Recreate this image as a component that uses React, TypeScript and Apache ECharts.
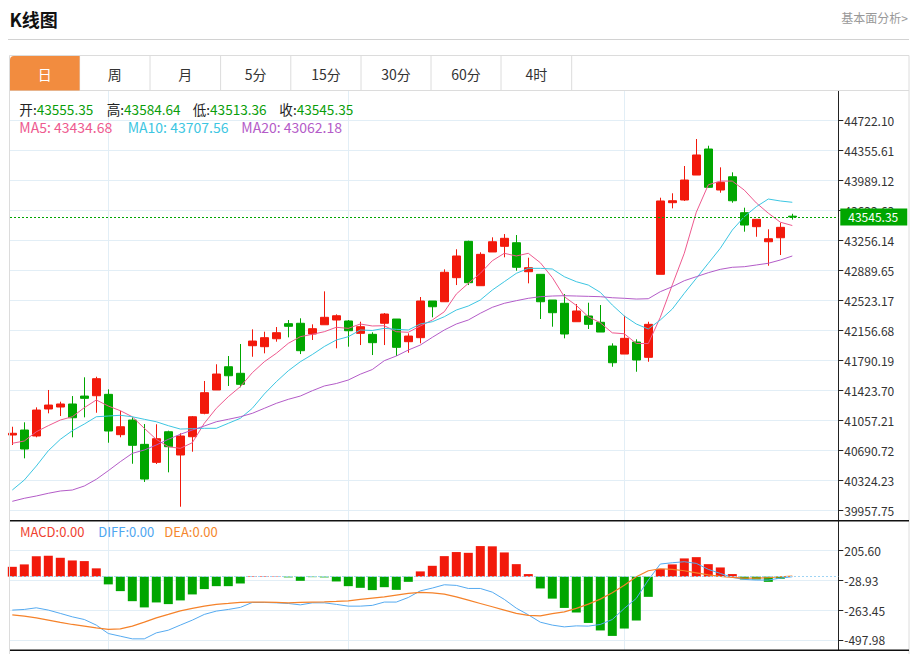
import React, { useEffect, useRef } from "react";
import * as echarts from "echarts";

const tabs = ["日", "周", "月", "5分", "15分", "30分", "60分", "4时"];

const opens = [
  40882, 40943, 40870, 41200, 41224, 41261, 41358, 41362, 41379, 40886,
  41065, 40768, 40548, 40922, 40638, 40861, 41147, 41432, 41716, 41636,
  41973, 41961, 42058, 42242, 42247, 42116, 42229, 42287, 42275, 42124,
  42112, 42247, 42299, 42022, 42071, 42519, 42510, 42804, 43248, 42706,
  43118, 43187, 43231, 42877, 42845, 42531, 42491, 42266, 42336, 42259,
  41969, 41871, 42018, 41831, 42845, 43720, 43753, 44058, 44376, 43875,
  44037, 43598, 43427, 43243, 43292, 43555.35,
];
const closes = [
  40903, 40711, 41187, 41248, 41261, 41093, 41330, 41570, 40931, 40983,
  40756, 40344, 40837, 40739, 40870, 41105, 41399, 41627, 41606, 41501,
  42030, 42071, 42132, 42210, 41912, 42181, 42320, 42339, 42156, 42205,
  42010, 42360, 41953, 42091, 42519, 42449, 42870, 43069, 42743, 43089,
  43243, 43285, 42931, 42926, 42510, 42376, 42116, 42397, 42234, 42140,
  41765, 42063, 41798, 42234, 43741, 43744, 43997, 44303, 43908, 43969,
  43744, 43447, 43517, 43280, 43419, 43545.35,
];
const lows = [
  40760, 40597, 40854, 41147, 41114, 40854, 41098, 41154, 40788, 40854,
  40531, 40308, 40528, 40426, 40006, 40678, 41135, 41432, 41481, 41465,
  41838, 41880, 42022, 42075, 41871, 42043, 42229, 41941, 41961, 41981,
  41859, 41981, 41847, 41887, 42002, 42320, 42510, 42714, 42714, 42706,
  43118, 43053, 42889, 42735, 42299, 42205, 42063, 42266, 42177, 42140,
  41716, 41871, 41655, 41777, 42845, 43651, 43741, 44058, 43908, 43842,
  43720, 43366, 43304, 42950, 43081, 43513.36,
];
const highs = [
  40983, 41037, 41220, 41432, 41289, 41358, 41587, 41594, 41440, 41179,
  41098, 41016, 41013, 40935, 40903, 41114, 41542, 41746, 41847, 41994,
  42173, 42144, 42201, 42287, 42308, 42234, 42637, 42356, 42287, 42266,
  42137, 42372, 42299, 42124, 42568, 42519, 42906, 43151, 43256, 43114,
  43297, 43337, 43325, 43048, 42845, 42531, 42604, 42482, 42498, 42470,
  42002, 42339, 42051, 42266, 43781, 43835, 44168, 44498, 44416, 44152,
  44091, 43659, 43517, 43395, 43475, 43584.64,
];
const ma5 = [
  40781, 40809, 40922, 40996, 41065, 41105, 41216, 41310, 41236, 41179,
  41105, 40964, 40829, 40739, 40719, 40788, 41025, 41208, 41350, 41472,
  41643, 41777, 41880, 42002, 42083, 42112, 42144, 42198, 42185, 42238,
  42214, 42217, 42144, 42137, 42214, 42287, 42388, 42604, 42735, 42857,
  43011, 43102, 43069, 43102, 42987, 42806, 42572, 42465, 42327, 42253,
  42130, 42119, 42000, 42000, 42320, 42716, 43103, 43604, 43938, 43984,
  43984, 43874, 43717, 43592, 43482, 43441,
];
const ma10 = [
  40210, 40332, 40503, 40690, 40829, 40935, 41016, 41105, 41114, 41123,
  41105, 41074, 41044, 40996, 40955, 40959, 40964, 40964, 41025, 41086,
  41208, 41383, 41533, 41667, 41777, 41865, 41963, 42043, 42083, 42165,
  42159, 42185, 42173, 42165, 42238, 42266, 42327, 42409, 42458, 42531,
  42653, 42755, 42857, 42918, 42918, 42910, 42816, 42755, 42714, 42625,
  42470, 42336, 42238, 42177, 42287, 42421, 42613, 42796, 42980, 43163,
  43386, 43549, 43671, 43765, 43741, 43725,
];
const ma20 = [
  40072, 40109, 40137, 40170, 40198, 40210, 40259, 40341, 40446, 40556,
  40658, 40699, 40760, 40829, 40891, 40943, 40992, 41044, 41074, 41105,
  41147, 41208, 41269, 41318, 41358, 41423, 41481, 41511, 41554, 41625,
  41682, 41790, 41847, 41920, 41981, 42075, 42165, 42238, 42287, 42369,
  42442, 42491, 42523, 42552, 42572, 42580, 42584, 42580, 42576, 42572,
  42559, 42552, 42543, 42547, 42633, 42694, 42767, 42816, 42865, 42906,
  42931, 42938, 42959, 42980, 43020, 43069,
];
const macdHist = [
  77, 96, 161, 164, 148, 127, 122, 65, -61, -114,
  -193, -242, -203, -216, -187, -140, -98, -75, -75, -54,
  4, 4, 3, -6, -33, -4, -6, -38, -75, -88,
  -106, -83, -104, -41, 41, 85, 161, 193, 187, 240,
  238, 190, 98, 20, -93, -173, -246, -282, -364, -423,
  -466, -408, -345, -159, 61, 96, 143, 153, 98, 72,
  20, -22, -22, -41, -17, 0,
];
const diffLine = [
  -263, -258, -245, -263, -289, -316, -337, -381, -447, -468,
  -489, -489, -442, -421, -381, -342, -297, -271, -258, -242,
  -203, -203, -206, -211, -222, -206, -206, -218, -232, -232,
  -226, -200, -200, -164, -112, -90, -64, -69, -93, -93,
  -122, -179, -248, -300, -358, -381, -395, -387, -389, -376,
  -337, -250, -171, -27, 99, 109, 117, 104, 57, 25,
  -6, -22, -27, -27, -12, -1,
];
const deaLine = [
  -300, -311, -324, -342, -360, -376, -389, -403, -415, -411,
  -389, -358, -324, -297, -269, -250, -232, -218, -211, -203,
  -200, -200, -203, -206, -203, -200, -198, -195, -190, -179,
  -169, -159, -145, -132, -124, -127, -138, -159, -185, -211,
  -237, -263, -289, -305, -308, -291, -277, -250, -216, -177,
  -127, -67, -1, 46, 62, 57, 46, 30, 14, 2,
  -6, -12, -12, -9, -1, 4,
];
const priceTicks = [
  44722.1, 44355.61, 43989.12, 43622.63, 43256.14, 42889.65, 42523.17,
  42156.68, 41790.19, 41423.7, 41057.21, 40690.72, 40324.23, 39957.75,
];
const macdTicks = [205.6, -28.93, -263.45, -497.98];
const monthStarts = [8, 28, 51];
const maLegendValues = [43434.68, 43707.56, 43062.18];
const macdLegendValues = [0, 0, 0];

const RED = "#f2190b";
const GREEN = "#00a600";
const GRIDC = "#e2eef6";
const FONT = "'Noto Sans CJK SC', 'Noto Sans', sans-serif";
const MA_COLORS = ["#ee5a8f", "#3dc6e2", "#b45cc8"];

export default function App() {
  const ref = useRef<HTMLDivElement>(null);
  useEffect(() => {
    if (!ref.current) return;
    const chart = echarts.init(ref.current, null, { renderer: "svg" });
    const n = closes.length;
    const last = n - 1;
    const candleData = opens.map((o, i) => [i, o, closes[i], lows[i], highs[i]]);
    const xy = (arr: number[]) => arr.map((v, i) => [i, v]);

    const g: any[] = [];
    const txt = (x: number, y: number, text: string, extra: any = {}, z = 50) =>
      g.push({
        type: "text",
        x,
        y,
        z,
        silent: true,
        style: {
          text,
          fontFamily: FONT,
          fontSize: 13,
          fill: "#333",
          align: "left",
          verticalAlign: "middle",
          ...extra,
        },
      });
    const line = (x1: number, y1: number, x2: number, y2: number, stroke: string, lw = 1, z = 40) =>
      g.push({ type: "line", z, silent: true, shape: { x1, y1, x2, y2 }, style: { stroke, lineWidth: lw } });

    // header
    txt(9.5, 19, "K线图", { fontSize: 18, fontWeight: "bold", fill: "#111" });
    txt(908, 17.5, "基本面分析>", { fontSize: 12, fill: "#999", align: "right" });
    line(8, 39.5, 909, 39.5, "#d2d2d2");
    // container
    g.push({
      type: "rect",
      z: 40,
      silent: true,
      shape: { x: 9.5, y: 55.5, width: 899.5, height: 640 },
      style: { fill: "none", stroke: "#dcdcdc", lineWidth: 1 },
    });
    // tabs
    const edges = [10, 79.6, 150, 220.6, 290.8, 361, 431, 501, 571.7];
    g.push({
      type: "rect",
      z: 41,
      silent: true,
      shape: { x: 10, y: 56, width: edges[1] - 10, height: 34.5, r: [4, 0, 0, 0] },
      style: { fill: "#f28c3f" },
    });
    line(9.5, 90.5, 909, 90.5, "#dcdcdc");
    for (let i = 1; i < edges.length; i++) line(edges[i], 55.5, edges[i], 90.5, "#dcdcdc");
    tabs.forEach((t, i) => {
      txt((edges[i] + edges[i + 1]) / 2, 73.5, t, {
        fontSize: 14,
        align: "center",
        fill: i === 0 ? "#fff" : "#333",
      }, 45);
    });
    // OHLC legend
    const ohlcLabels = ["开", "高", "低", "收"];
    const ohlcVals = [opens[last], highs[last], lows[last], closes[last]];
    const ohlcX = [19.3, 106.7, 192.7, 279.3];
    ohlcLabels.forEach((l, i) => {
      txt(ohlcX[i], 108.5, `{k|${l}:}{v|${ohlcVals[i].toFixed(2)}}`, {
        rich: {
          k: { fill: "#222", fontSize: 13.6, fontFamily: FONT },
          v: { fill: "#0a9e0a", fontSize: 13.6, fontFamily: FONT },
        },
      });
    });
    const maNames = ["MA5", "MA10", "MA20"];
    const maX = [19.3, 127.7, 241.3];
    maNames.forEach((m, i) => {
      txt(maX[i], 126.7, `${m}: ${maLegendValues[i].toFixed(2)}`, { fill: MA_COLORS[i], fontSize: 14 });
    });
    const macdNames = ["MACD", "DIFF", "DEA"];
    const macdColors = ["#ef3f2f", "#4ea6f0", "#f5862c"];
    const macdX = [20, 98.3, 164.3];
    macdNames.forEach((m, i) => {
      txt(macdX[i], 531.7, `${m}:${macdLegendValues[i].toFixed(2)}`, { fill: macdColors[i] });
    });
    // panel separators
    line(10, 520.7, 909, 520.7, "#111", 1.5, 60);
    line(10, 650.2, 909, 650.2, "#111", 1.5, 60);

    const xAxisBase = (gi: number) => ({
      type: "value",
      gridIndex: gi,
      min: -0.1917,
      max: 68.833,
      axisLine: { show: false, onZero: false },
      axisTick: { show: false, customValues: monthStarts },
      axisLabel: { show: false },
      splitLine: { show: true, lineStyle: { color: GRIDC, width: 1 } },
    });

    const option: any = {
      animation: false,
      backgroundColor: "#fff",
      graphic: { elements: g },
      grid: [
        { left: 10, right: 74.7, top: 91, height: 429.7 },
        { left: 10, right: 74.7, top: 520.7, height: 129.5 },
      ],
      xAxis: [xAxisBase(0), xAxisBase(1)],
      yAxis: [
        {
          type: "value",
          gridIndex: 0,
          position: "right",
          min: 39835.2,
          max: 45084.6,
          axisLine: { show: true, onZero: false, lineStyle: { color: "#222", width: 1 } },
          axisTick: { show: true, length: 5, customValues: priceTicks, lineStyle: { color: "#222" } },
          axisLabel: {
            customValues: priceTicks,
            formatter: (v: number) => v.toFixed(2),
            color: "#333",
            fontSize: 12,
            fontFamily: FONT,
            margin: 6,
          },
          splitLine: { show: true, lineStyle: { color: GRIDC, width: 1 } },
        },
        {
          type: "value",
          gridIndex: 1,
          position: "right",
          min: -578.2,
          max: 439.4,
          axisLine: { show: true, onZero: false, lineStyle: { color: "#222", width: 1 } },
          axisTick: { show: true, length: 5, customValues: macdTicks, lineStyle: { color: "#222" } },
          axisLabel: {
            customValues: macdTicks,
            formatter: (v: number) => v.toFixed(2),
            color: "#333",
            fontSize: 12,
            fontFamily: FONT,
            margin: 6,
          },
          splitLine: { show: true, lineStyle: { color: GRIDC, width: 1 } },
        },
      ],
      series: [
        {
          type: "candlestick",
          xAxisIndex: 0,
          yAxisIndex: 0,
          data: candleData,
          barWidth: 8,
          itemStyle: {
            color: RED,
            color0: GREEN,
            borderColor: RED,
            borderColor0: GREEN,
            borderWidth: 1,
          },
          markLine: {
            silent: true,
            symbol: "none",
            animation: false,
            data: [{ yAxis: closes[last] }],
            lineStyle: { color: GREEN, type: [2, 2], width: 1 },
            label: {
              show: true,
              position: "end",
              formatter: closes[last].toFixed(2),
              color: "#fff",
              backgroundColor: GREEN,
              padding: [3, 9, 2, 8],
              fontSize: 12,
              fontFamily: FONT,
              distance: 2,
            },
          },
        },
        ...[ma5, ma10, ma20].map((arr, i) => ({
          type: "line",
          xAxisIndex: 0,
          yAxisIndex: 0,
          data: xy(arr),
          showSymbol: false,
          symbol: "none",
          lineStyle: { color: MA_COLORS[i], width: 1 },
          z: 3,
        })),
        {
          type: "bar",
          xAxisIndex: 1,
          yAxisIndex: 1,
          data: xy(macdHist),
          barWidth: 9,
          itemStyle: { color: (p: any) => (p.value[1] >= 0 ? RED : GREEN) },
          markLine: {
            silent: true,
            symbol: "none",
            animation: false,
            data: [{ yAxis: 0 }],
            lineStyle: { color: "#9fd4f4", type: [2, 2], width: 1 },
            label: { show: false },
          },
        },
        {
          type: "line",
          xAxisIndex: 1,
          yAxisIndex: 1,
          data: xy(diffLine),
          showSymbol: false,
          symbol: "none",
          lineStyle: { color: "#55aaf0", width: 1 },
          z: 3,
        },
        {
          type: "line",
          xAxisIndex: 1,
          yAxisIndex: 1,
          data: xy(deaLine),
          showSymbol: false,
          symbol: "none",
          lineStyle: { color: "#f5822a", width: 1.2 },
          z: 3,
        },
      ],
    };
    chart.setOption(option);
    return () => chart.dispose();
  }, []);
  return (
    <div
      ref={ref}
      style={{ position: "absolute", left: 0, top: 0, width: 913, height: 654, background: "#fff" }}
    />
  );
}
